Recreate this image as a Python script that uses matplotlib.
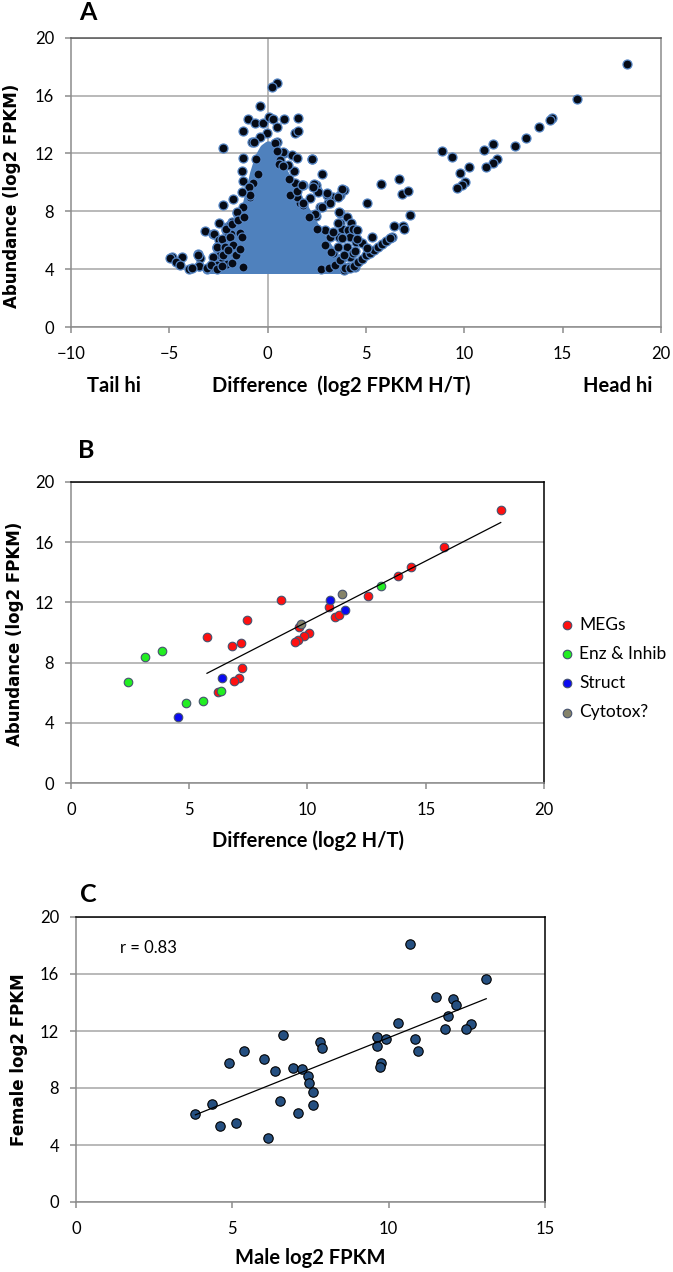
import matplotlib.pyplot as plt
import numpy as np

plt.rcParams['font.family'] = ['Lato', 'DejaVu Sans']

# ---- panel A: head/tail difference vs abundance ----
# right-hand branch and the diagonal edge
bx = [18.25, 15.73, 14.47, 14.38, 13.81, 13.13, 12.57, 11.47, 11.01, 11.64, 11.47, 11.08,
      10.23, 9.78, 10.03, 9.86, 9.61, 9.35, 8.86, 5.74, 6.68, 6.83, 7.16, 7.23, 6.9, 6.95,
      6.4, 6.31, 5.05, 4.2, 4.4, 4.6, 4.8, 5.0, 5.2, 5.4, 5.6, 5.8, 6.0, 6.2, 5.29, 4.78,
      5.03, 4.52, 4.52, 4.46]
by = [18.15, 15.73, 14.42, 14.3, 13.82, 13.06, 12.53, 12.62, 12.21, 11.59, 11.36, 11.08,
      11.08, 10.62, 10.0, 9.82, 9.58, 11.77, 12.16, 9.86, 10.2, 9.17, 9.42, 7.74, 7.0, 6.8,
      7.0, 6.2, 8.6, 4.05, 4.25, 4.5, 4.7, 4.95, 5.15, 5.35, 5.55, 5.75, 5.95, 6.15, 6.24, 5.78,
      5.44, 6.7, 6.11, 5.26]
# top of the cloud
tx = [0.5, 0.22, -0.37, -1.02, -0.65, -0.22, 0.07, 0.29, 0.84, 1.56, 0.46, -1.24, 1.39,
      1.52, -0.81, -0.05, -0.39, 0.46, -2.26, 2.24, 1.34, 0.83, 1.22, 1.47, -1.24, -1.32,
      -1.24, -0.73, 1.76, 2.29, 0.37, -0.72, 0.79, 1.05, 0.63, -0.93, -0.9, -1.32, -0.5,
      -0.6, 0.6, 0.8, 0.5, 1.1]
ty = [16.84, 16.56, 15.27, 14.35, 14.08, 14.08, 14.49, 14.35, 14.35, 14.42, 13.84, 13.57, 13.43,
      13.57, 12.76, 13.38, 13.15, 12.76, 12.35, 11.59, 10.8, 12.0, 11.89, 11.66, 11.66, 10.8,
      10.11, 9.93, 9.81, 9.65, 12.69, 12.8, 12.11, 11.2, 11.54, 9.7, 9.12, 9.35, 10.6,
      11.6, 11.3, 11.1, 12.2, 10.2]
# left flank
lx = [-1.75, -2.26, -1.58, -2.46, -3.19, -2.77, -2.08, -1.83, -1.81, -2.1,
      -2.75, -2.47, -1.86, -2.58, -4.88, -4.95, -4.37, -4.66, -4.46, -3.99,
      -3.53, -3.44, -3.49, -3.07, -2.71, -2.59, -2.42, -2.08, -1.92, -2.34,
      -2.8, -1.24, -1.58, -2.12, -1.8, -1.49, -2.34, -1.92, -1.41, -2.59,
      -2.17, -1.75, -3.53, -2.77, -2.26, -1.66, -3.48, -3.1, -2.59, -2.08,
      -3.86, -1.24, -2.9, -2.6, -2.3, -2.0, -1.8, -1.6, -1.4, -1.3,
      -1.2, -0.9]
ly = [8.82, 8.43, 7.86, 7.17, 6.66, 6.43, 6.93, 7.12, 7.27, 6.69,
      6.46, 6.0, 6.46, 5.54, 4.86, 4.75, 4.86, 4.51, 4.28, 3.99,
      5.04, 4.75, 4.22, 3.99, 4.4, 5.44, 4.98, 6.24, 7.05, 4.51,
      4.15, 8.31, 7.97, 6.75, 7.12, 7.39, 6.06, 6.24, 6.47, 5.51,
      5.55, 5.67, 4.98, 4.86, 4.98, 4.98, 4.22, 4.06, 4.28, 4.35,
      4.06, 4.17, 4.3, 4.0, 4.2, 5.3, 4.4, 5.0, 5.4, 6.2,
      7.6, 9.0]
# right flank
rx = [3.68, 4.02, 3.68, 4.18, 3.84, 4.02, 3.34, 3.0, 2.66, 3.08,
      2.32, 2.49, 3.68, 3.87, 1.64, 1.47, 2.27, 2.77, 1.79, 2.45,
      2.56, 2.15, 2.44, 4.26, 3.76, 4.09, 3.65, 4.19, 4.19, 4.09,
      3.87, 2.37, 3.0, 3.76, 3.59, 3.17, 2.75, 2.4, 3.64, 3.59,
      4.35, 3.17, 2.91, 3.76, 4.02, 4.49, 4.35, 3.76, 3.93, 4.44,
      3.34, 1.39, 1.13, 1.81, 2.7, 3.1, 3.4, 3.7, 3.2, 3.6,
      2.9, 3.9, 2.5, 3.3, 2.1, 1.8, 1.5]
ry = [7.9, 7.62, 7.17, 6.75, 4.86, 4.06, 9.01, 9.12, 8.31, 8.55,
      7.74, 9.47, 9.12, 9.46, 8.55, 9.0, 11.58, 10.61, 9.85, 9.85,
      9.34, 8.89, 7.69, 7.2, 6.8, 6.69, 6.23, 6.23, 4.84, 4.15,
      3.97, 9.86, 9.28, 9.51, 8.96, 8.59, 8.31, 7.81, 7.97, 7.17,
      6.75, 6.24, 6.7, 6.13, 5.55, 5.9, 5.09, 4.75, 4.06, 4.17,
      5.09, 9.93, 9.12, 8.43, 4.0, 4.1, 4.3, 4.6, 5.2, 5.5,
      5.7, 5.0, 6.8, 6.6, 7.6, 8.6, 9.4]
# outline of the saturated (overplotted) core
core_x = [-2.9, -2.4, -1.9, -1.4, -1.05, -0.85, -0.65, -0.4, -0.15, 0.05, 0.3, 0.75,
          1.2, 1.8, 2.3, 2.8, 3.3, 3.7, 3.9]
core_y = [4.0, 4.9, 6.0, 7.2, 8.3, 9.4, 10.6, 11.7, 12.3, 12.5, 12.0, 10.8,
          9.6, 8.3, 7.1, 6.0, 5.0, 4.3, 4.0]

# ---- panel B: head-enriched genes by class ----
meg_x = [18.17, 15.76, 14.38, 13.83, 12.57, 8.87, 10.93, 11.15, 11.33, 7.43, 5.75, 6.8,
         7.2, 10.06, 9.85, 9.61, 9.48, 7.22, 7.11, 6.91, 6.2, 9.63]
meg_y = [18.12, 15.65, 14.32, 13.77, 12.44, 12.13, 11.71, 11.05, 11.16, 10.81, 9.72, 9.13,
         9.33, 9.99, 9.77, 9.5, 9.39, 7.67, 7.0, 6.81, 6.08, 10.39]
enz_x = [13.09, 2.41, 3.12, 3.84, 4.86, 5.6, 6.35]
enz_y = [13.06, 6.74, 8.4, 8.8, 5.33, 5.48, 6.14]
struct_x = [10.97, 11.57, 6.38, 4.53]
struct_y = [12.15, 11.47, 6.98, 4.42]
cyto_x = [11.46, 9.74]
cyto_y = [12.55, 10.56]

# ---- panel C: male vs female ----
male = [10.67, 13.12, 11.51, 12.07, 12.16, 11.91, 10.30, 12.64, 11.79, 12.47, 6.62, 9.62,
        9.92, 10.84, 7.79, 7.87, 9.62, 5.38, 10.95, 6.02, 4.9, 9.75, 9.71, 6.35, 6.94,
        7.23, 7.42, 7.45, 7.58, 7.58, 6.54, 4.34, 3.82, 7.10, 4.62, 5.12, 6.14]
female = [18.11, 15.65, 14.36, 14.25, 13.82, 13.03, 12.58, 12.51, 12.16, 12.14, 11.70, 11.56,
          11.42, 11.44, 11.2, 10.83, 10.97, 10.57, 10.57, 10.04, 9.78, 9.78, 9.47, 9.17, 9.40,
          9.33, 8.84, 8.37, 7.72, 6.78, 7.06, 6.88, 6.15, 6.25, 5.36, 5.54, 4.49]

W, H = 673, 1272
fig = plt.figure(figsize=(W / 100, H / 100), dpi=100)


def box(l, t, r, b):
    return [l / W, 1 - b / H, (r - l) / W, (b - t) / H]


def style(ax, xt, frame):
    ax.set_ylim(0, 20)
    ax.set_yticks([0, 4, 8, 12, 16, 20])
    ax.set_xticks(xt)
    ax.set_xlim(xt[0], xt[-1])
    ax.yaxis.grid(True, color='#a6a6a6', lw=1.1)
    ax.set_axisbelow(True)
    for s in ['left', 'bottom']:
        ax.spines[s].set_color('#8c8c8c')
        ax.spines[s].set_linewidth(1.1)
    for s in ['top', 'right']:
        ax.spines[s].set_color(frame)
        ax.spines[s].set_linewidth(1.1)
    ax.tick_params(axis='both', colors='#8c8c8c', labelcolor='black', labelsize=12,
                   length=4, width=1.1)
    ax.tick_params(axis='x', pad=9.5)
    ax.tick_params(axis='y', pad=8)


# panel A
axA = fig.add_axes(box(71, 37.7, 661, 327))
style(axA, [-10, -5, 0, 5, 10, 15, 20], '#555555')
axA.spines['right'].set_color('#8c8c8c')
axA.axvline(0, color='#a6a6a6', lw=1.1, zorder=1)
axA.fill(core_x, core_y, facecolor='#4f81bd', edgecolor='#4f81bd', lw=7,
         joinstyle='round', zorder=2)
akw = dict(s=42, c='#060b16', edgecolors='#5585c4', linewidths=0.9, zorder=3)
for px, py in [(lx, ly), (rx, ry), (tx, ty), (bx, by)]:
    axA.scatter(px, py, **akw)

# panel B
axB = fig.add_axes(box(71, 481.7, 544, 783.3))
style(axB, [0, 5, 10, 15, 20], 'black')
bkw = dict(s=38, edgecolors='#46526e', linewidths=0.8, zorder=3)
axB.scatter(meg_x, meg_y, c='#ff1010', label='MEGs', **bkw)
axB.scatter(enz_x, enz_y, c='#22ee22', label='Enz & Inhib', **bkw)
axB.scatter(struct_x, struct_y, c='#0a0af0', label='Struct', **bkw)
axB.scatter(cyto_x, cyto_y, c='#85836a', label='Cytotox?', **bkw)
k, b0 = np.polyfit(meg_x, meg_y, 1)
xx = np.array([min(meg_x), max(meg_x)])
axB.plot(xx, k * xx + b0, color='black', lw=0.9, zorder=4)
axB.legend(loc='upper left', bbox_to_anchor=(562 / W, 1 - 617 / H),
           bbox_transform=fig.transFigure, frameon=False, fontsize=12.5,
           handlelength=0.6, handletextpad=0.38, labelspacing=0.75,
           borderpad=0, borderaxespad=0, scatterpoints=1)

# panel C
axC = fig.add_axes(box(76, 917, 545, 1202))
style(axC, [0, 5, 10, 15], 'black')
axC.scatter(male, female, s=46, c='#254f80', edgecolors='black', linewidths=0.8, zorder=3)
k, b0 = np.polyfit(male, female, 1)
xx = np.array([min(male), max(male)])
axC.plot(xx, k * xx + b0, color='black', lw=0.9, zorder=4)
axC.text(1.4, 17.8, 'r = 0.83', fontsize=12, va='center', ha='left')

# labels
bold_l = dict(fontsize=18, fontweight='bold', ha='center', va='center')
fig.text(88 / W, 1 - 13 / H, 'A', **bold_l)
fig.text(86 / W, 1 - 450 / H, 'B', **bold_l)
fig.text(88 / W, 1 - 895 / H, 'C', **bold_l)

ylab = dict(family='DejaVu Sans', fontsize=12, fontweight='bold', rotation=90,
            ha='center', va='center')
fig.text(12 / W, 1 - 196 / H, 'Abundance (log2 FPKM)', **ylab)
fig.text(15 / W, 1 - 634 / H, 'Abundance (log2 FPKM)', **ylab)
fig.text(19 / W, 1 - 1060 / H, 'Female log2 FPKM', **ylab)

xlab = dict(fontsize=14.5, fontweight='bold', ha='center', va='center')
fig.text(341 / W, 1 - 386 / H, 'Difference  (log2 FPKM H/T)', **xlab)
fig.text(114 / W, 1 - 386 / H, 'Tail hi', **xlab)
fig.text(618 / W, 1 - 386 / H, 'Head hi', **xlab)
fig.text(308 / W, 1 - 841 / H, 'Difference (log2 H/T)', **xlab)
fig.text(310 / W, 1 - 1258 / H, 'Male log2 FPKM', **xlab)

fig.savefig('out.png', dpi=100)
